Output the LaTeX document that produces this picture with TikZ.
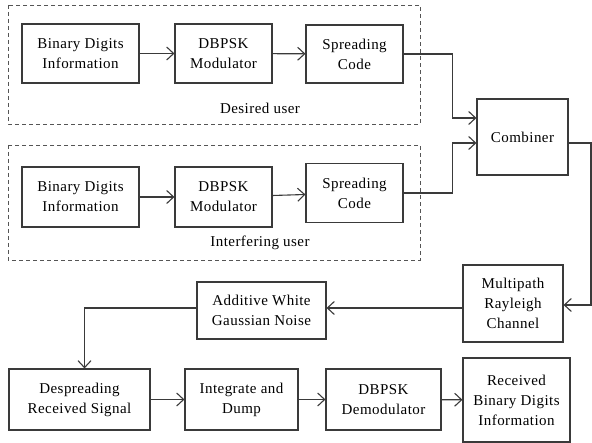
\documentclass[tikz,border=0pt]{standalone}
\usepackage{fontspec}
\setmainfont{Liberation Serif}
\newfontfamily\diagfont[LetterSpace=3]{Liberation Serif}
\usepackage{tikz}
\usetikzlibrary{arrows.meta,positioning,calc}
\definecolor{Edge}{HTML}{3A3A3A}
\definecolor{Dash}{HTML}{555555}
\tikzset{
  barb/.tip={Straight Barb[length=7pt,width=13pt,line width=1.1pt]}
}

\begin{document}
\begin{tikzpicture}[x=1pt,y=1pt,
    font=\diagfont\fontsize{15}{20}\selectfont,
    blk/.style={draw=Edge,line width=1.1pt,align=center,inner sep=2pt},
    grp/.style={draw=Dash,line width=0.9pt,dash pattern=on 4pt off 3pt},
    link/.style={draw=Edge,line width=1.1pt,-barb}]
  \useasboundingbox (0,0) rectangle (592,-443);
  % user groups
  \draw[grp] (8,-5) rectangle (420,-124);
  \draw[grp] (8,-145) rectangle (420,-260);
  \node (DU) at (260,-108) {Desired user};
  \node (IU) at (260,-243) {Interfering user};
  % desired user chain
  \node[blk,minimum width=117pt,minimum height=59pt] (bin1) at (80.5,-53.5) {Binary Digits\\Information};
  \node[blk,minimum width=97pt,minimum height=59pt] (mod1) at (223.5,-53.5) {DBPSK\\Modulator};
  \node[blk,minimum width=97pt,minimum height=58pt] (spr1) at (354.5,-54) {Spreading\\Code};
  % interfering user chain
  \node[blk,minimum width=117pt,minimum height=60pt] (bin2) at (80.5,-197) {Binary Digits\\Information};
  \node[blk,minimum width=97pt,minimum height=60pt] (mod2) at (223.5,-197) {DBPSK\\Modulator};
  \node[blk,minimum width=97pt,minimum height=59pt] (spr2) at (354.5,-193) {Spreading\\Code};
  % channel
  \node[blk,minimum width=91pt,minimum height=76pt] (comb) at (522.5,-137) {Combiner};
  \node[blk,minimum width=100pt,minimum height=77pt] (chan) at (513,-303.5) {Multipath\\Rayleigh\\Channel};
  \node[blk,minimum width=129pt,minimum height=57pt] (awgn) at (261.5,-310.5) {Additive White\\Gaussian Noise};
  \coordinate (rt) at (591,0);
  \coordinate (cw) at ([yshift=-4.5pt]chan.west);
  % receiver
  \node[blk,minimum width=141pt,minimum height=61pt] (desp) at (79.5,-399.5) {Despreading\\Received Signal};
  \node[blk,minimum width=113pt,minimum height=61pt] (integ) at (241.5,-399.5) {Integrate and\\Dump};
  \node[blk,minimum width=115pt,minimum height=61pt] (demod) at (383.5,-399.5) {DBPSK\\Demodulator};
  \node[blk,minimum width=107pt,minimum height=84pt] (recv) at (516.5,-400) {Received\\Binary Digits\\Information};

  \draw[link] (bin1) -- (mod1);
  \draw[link] (mod1) -- (spr1);
  \draw[link] (bin2) -- (mod2);
  \draw[link] (mod2) -- (spr2);
  \draw[link] (spr1.east) -- ++(49,0) |- ([yshift=19pt]comb.west);
  \draw[link] (spr2.east) -- ++(49,0) |- ([yshift=-6pt]comb.west);
  \draw[link] ([yshift=-6pt]comb.east) -- ([yshift=-6pt]comb.east -| rt) |- ([yshift=-1.5pt]chan.east);
  \draw[link] (cw) -- (awgn.east |- cw);
  \draw[link] ([yshift=2.5pt]awgn.west) -| ([xshift=5pt]desp.north);
  \draw[link] (desp) -- (integ);
  \draw[link] (integ) -- (demod);
  \draw[link] (demod) -- (recv);
\end{tikzpicture}
\end{document}
